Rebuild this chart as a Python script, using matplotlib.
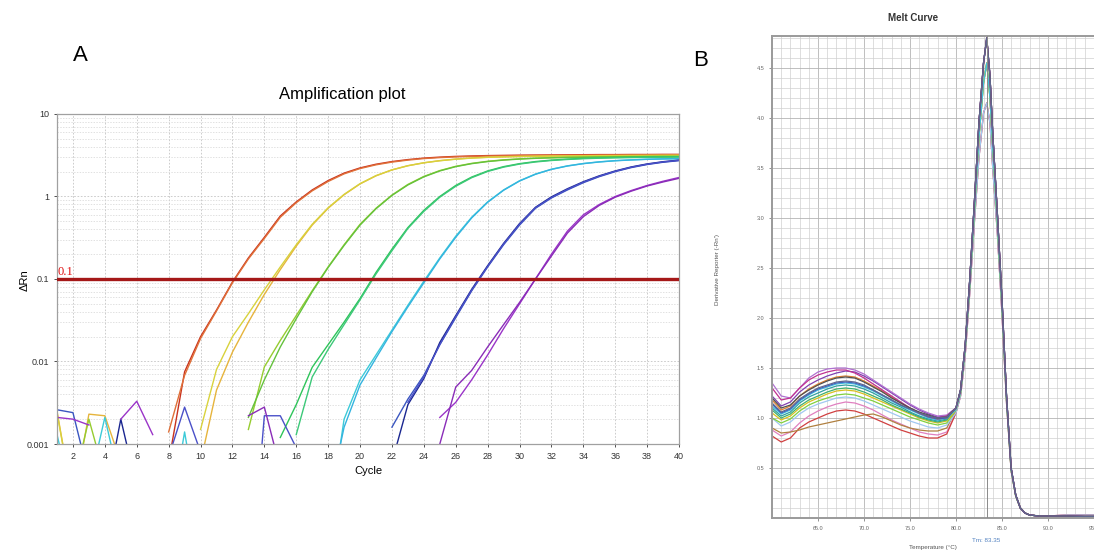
import numpy as np
import matplotlib
matplotlib.use('Agg')
import matplotlib.pyplot as plt
from matplotlib.ticker import FixedLocator, NullFormatter, MultipleLocator

plt.rcParams['font.family'] = ['Liberation Sans', 'DejaVu Sans']

N = None

# ---- panel A: amplification curves (delta Rn per cycle) ----
cycles = list(range(1, 41))
threshold = 0.1

amp_colors = ['#c8321e', '#e07038', '#e6b43c', '#d8d23c', '#96cc30', '#64c23c',
              '#2ec45a', '#3cc878', '#3ccad8', '#34b4e0', '#3a56c0', '#1a2690',
              '#4a50c8', '#9a34c8', '#8a2cb8']

amp_red = [N, N, N, N, N, N, N, 0.0006, 0.0075, 0.02, 0.042, 0.092, 0.18, 0.32, 0.58, 0.86, 1.2, 1.56,
           1.92, 2.22, 2.46, 2.65, 2.8, 2.92, 3.0, 3.06, 3.1, 3.13, 3.15, 3.17, 3.18, 3.19, 3.2, 3.21,
           3.22, 3.22, 3.23, 3.23, 3.24, 3.24]
amp_orange = [N, N, N, N, N, N, N, 0.0014, 0.0068, 0.019, 0.041, 0.09, 0.175, 0.31, 0.56, 0.84, 1.17,
              1.52, 1.88, 2.18, 2.42, 2.61, 2.76, 2.88, 2.96, 3.02, 3.06, 3.09, 3.11, 3.13, 3.14, 3.15,
              3.16, 3.17, 3.18, 3.18, 3.19, 3.19, 3.2, 3.2]
amp_gold = [0.0025, 0.0002, 0.0023, 0.0022, 0.0006, N, N, N, N, 0.0006, 0.0045, 0.013, 0.03, 0.065,
            0.13, 0.25, 0.45, 0.72, 1.05, 1.42, 1.78, 2.1, 2.36, 2.56, 2.72, 2.84, 2.93, 2.99, 3.03,
            3.06, 3.08, 3.1, 3.11, 3.12, 3.13, 3.14, 3.14, 3.15, 3.15, 3.16]
amp_lemon = [0.0024, 0.0002, N, N, N, N, N, N, N, 0.0015, 0.008, 0.02, 0.038, 0.074, 0.14, 0.26, 0.46,
             0.73, 1.06, 1.43, 1.79, 2.1, 2.36, 2.56, 2.71, 2.83, 2.92, 2.98, 3.02, 3.05, 3.07, 3.09,
             3.1, 3.11, 3.12, 3.12, 3.13, 3.13, 3.14, 3.14]
amp_ygreen = [N, 0.0003, 0.002, 0.0004, N, N, N, N, N, N, N, N, 0.0015, 0.0086, 0.018, 0.036, 0.072,
              0.14, 0.26, 0.46, 0.72, 1.04, 1.4, 1.75, 2.06, 2.32, 2.52, 2.67, 2.78, 2.86, 2.92, 2.96,
              2.99, 3.01, 3.03, 3.04, 3.05, 3.06, 3.07, 3.07]
amp_green2 = [N, N, N, N, N, N, N, N, N, N, N, N, 0.0021, 0.006, 0.015, 0.033, 0.07, 0.138, 0.255,
              0.45, 0.71, 1.03, 1.38, 1.73, 2.04, 2.3, 2.5, 2.65, 2.76, 2.84, 2.9, 2.94, 2.97, 2.99,
              3.01, 3.02, 3.03, 3.04, 3.05, 3.05]
amp_greenA = [N, N, N, N, N, N, N, N, N, N, N, N, N, N, 0.0012, 0.003, 0.0085, 0.016, 0.03, 0.058,
              0.12, 0.23, 0.42, 0.68, 1.0, 1.36, 1.72, 2.04, 2.3, 2.5, 2.65, 2.76, 2.84, 2.9, 2.94,
              2.97, 2.99, 3.01, 3.02, 3.03]
amp_greenB = [N, N, N, N, N, N, N, N, N, N, N, N, N, N, N, 0.0013, 0.0065, 0.014, 0.028, 0.056,
              0.115, 0.22, 0.41, 0.66, 0.98, 1.33, 1.69, 2.01, 2.27, 2.47, 2.62, 2.73, 2.81, 2.87,
              2.91, 2.94, 2.96, 2.98, 2.99, 3.0]
amp_cyanA = [0.0013, 0.0002, 0.0003, 0.0021, 0.0003, N, N, 0.0001, 0.0014, 0.0001, N, N, N, N, N, N,
             N, 0.0001, 0.002, 0.006, 0.012, 0.024, 0.048, 0.094, 0.18, 0.33, 0.56, 0.86, 1.2, 1.55,
             1.87, 2.14, 2.35, 2.51, 2.63, 2.72, 2.78, 2.83, 2.86, 2.88]
amp_cyanB = [N, N, N, N, N, N, N, N, N, N, N, N, N, N, N, N, N, 0.0002, 0.0016, 0.0052, 0.011, 0.023,
             0.046, 0.09, 0.175, 0.32, 0.55, 0.85, 1.19, 1.54, 1.86, 2.13, 2.34, 2.5, 2.62, 2.71,
             2.77, 2.82, 2.85, 2.87]
amp_blueA = [0.0026, 0.0024, 0.0004, N, N, N, N, N, N, N, N, N, N, N, N, N, N, N, N, N, N, 0.0016,
             0.0035, 0.0068, 0.016, 0.034, 0.072, 0.14, 0.26, 0.45, 0.72, 0.96, 1.2, 1.47, 1.74, 2.0,
             2.24, 2.44, 2.6, 2.72]
amp_blueB = [N, N, N, 0.0002, 0.002, 0.0003, N, N, N, N, N, N, N, N, N, N, N, N, N, N, N, 0.0006,
             0.003, 0.0062, 0.017, 0.036, 0.075, 0.145, 0.27, 0.47, 0.74, 0.99, 1.24, 1.51, 1.78,
             2.04, 2.28, 2.48, 2.64, 2.76]
amp_blueC = [N, N, N, N, N, N, N, 0.0007, 0.0028, 0.0008, N, N, 0.00001, 0.0022, 0.0022, 0.0009, N,
             N, N, N, N, N, 0.0032, 0.0065, 0.016, 0.035, 0.073, 0.142, 0.265, 0.46, 0.73, 0.97,
             1.22, 1.49, 1.76, 2.02, 2.26, 2.46, 2.62, 2.74]
amp_purpleA = [0.0021, 0.002, 0.0017, N, 0.002, 0.0033, 0.0013, N, N, N, N, N, N, N, N, N, N, N, N,
               N, N, N, N, N, 0.0021, 0.0032, 0.006, 0.012, 0.025, 0.05, 0.1, 0.2, 0.38, 0.6, 0.8,
               1.0, 1.18, 1.36, 1.53, 1.7]
amp_purpleB = [N, N, N, N, N, N, N, N, N, N, N, N, 0.0022, 0.0028, 0.0005, N, N, N, N, N, N, N, N, N,
               0.001, 0.0049, 0.0078, 0.015, 0.028, 0.052, 0.1, 0.19, 0.36, 0.57, 0.78, 0.98, 1.16,
               1.34, 1.5, 1.66]

amp_series = [amp_red, amp_orange, amp_gold, amp_lemon, amp_ygreen, amp_green2, amp_greenA,
              amp_greenB, amp_cyanA, amp_cyanB, amp_blueA, amp_blueB, amp_blueC, amp_purpleA,
              amp_purpleB]

# ---- panel B: melt curves (derivative reporter vs temperature) ----
melt_low_t = list(range(60, 80))
melt_tail_t = [80, 80.5, 81, 81.5, 82, 82.5, 83, 83.35, 83.7, 84, 84.5, 85, 85.5, 86, 86.5, 87, 87.5,
               88, 89, 90, 92, 94, 96]
tail_hi = [1.1, 1.28, 1.72, 2.38, 3.15, 3.95, 4.55, 4.8, 4.42, 3.85, 3.05, 2.2, 1.22, 0.5, 0.23, 0.1,
           0.05, 0.03, 0.02, 0.02, 0.02, 0.015, 0.015]
tail_mid = [1.08, 1.25, 1.68, 2.32, 3.05, 3.8, 4.35, 4.55, 4.2, 3.7, 2.95, 2.12, 1.18, 0.48, 0.22,
            0.1, 0.05, 0.03, 0.02, 0.02, 0.02, 0.015, 0.015]
tail_lo = [1.05, 1.22, 1.62, 2.25, 2.95, 3.6, 4.05, 4.15, 3.95, 3.5, 2.85, 2.05, 1.15, 0.47, 0.22,
           0.1, 0.05, 0.03, 0.02, 0.02, 0.03, 0.03, 0.03]
tm_value = 83.35

melt_colors = ['#e080c0', '#d04040', '#b08040', '#a0c8f0', '#80d040', '#d8c020', '#40b070',
               '#30a0a0', '#40c0e0', '#e08030', '#4060c0', '#8040b0', '#b070d0', '#c03090',
               '#505050', '#606890']
melt_tails = ['lo', 'lo', 'mid', 'lo', 'mid', 'mid', 'hi', 'hi', 'mid', 'hi', 'hi', 'hi', 'hi', 'hi',
              'hi', 'hi']
melt_low = [
    [0.88, 0.82, 0.86, 0.95, 1.02, 1.07, 1.11, 1.14, 1.16, 1.15, 1.12, 1.08, 1.03, 0.98, 0.94, 0.9, 0.86, 0.84, 0.83, 0.86],
    [0.82, 0.76, 0.8, 0.9, 0.96, 1.0, 1.04, 1.07, 1.08, 1.07, 1.04, 1.0, 0.96, 0.92, 0.88, 0.85, 0.82, 0.8, 0.8, 0.84],
    [0.9, 0.85, 0.86, 0.88, 0.91, 0.93, 0.95, 0.97, 0.99, 1.01, 1.03, 1.04, 1.01, 0.97, 0.93, 0.9, 0.88, 0.87, 0.87, 0.9],
    [1.0, 0.92, 0.96, 1.04, 1.1, 1.14, 1.17, 1.2, 1.21, 1.2, 1.17, 1.13, 1.09, 1.05, 1.01, 0.97, 0.94, 0.91, 0.9, 0.93],
    [1.0, 0.95, 0.99, 1.07, 1.13, 1.17, 1.2, 1.23, 1.24, 1.23, 1.2, 1.17, 1.13, 1.09, 1.05, 1.01, 0.98, 0.95, 0.93, 0.95],
    [1.05, 0.98, 1.02, 1.1, 1.16, 1.2, 1.24, 1.27, 1.28, 1.27, 1.24, 1.2, 1.16, 1.12, 1.08, 1.04, 1.0, 0.97, 0.95, 0.97],
    [1.08, 1.0, 1.04, 1.12, 1.18, 1.22, 1.26, 1.29, 1.3, 1.29, 1.26, 1.22, 1.18, 1.13, 1.09, 1.05, 1.01, 0.98, 0.96, 0.98],
    [1.1, 1.02, 1.06, 1.15, 1.21, 1.25, 1.29, 1.32, 1.33, 1.32, 1.29, 1.25, 1.2, 1.15, 1.11, 1.06, 1.02, 0.99, 0.97, 0.99],
    [1.12, 1.04, 1.08, 1.17, 1.23, 1.28, 1.31, 1.34, 1.35, 1.34, 1.31, 1.27, 1.22, 1.17, 1.12, 1.08, 1.04, 1.0, 0.98, 1.0],
    [1.18, 1.08, 1.12, 1.22, 1.29, 1.34, 1.38, 1.41, 1.42, 1.41, 1.37, 1.32, 1.27, 1.21, 1.15, 1.1, 1.05, 1.01, 0.99, 1.0],
    [1.14, 1.05, 1.09, 1.18, 1.24, 1.29, 1.32, 1.35, 1.36, 1.35, 1.32, 1.28, 1.23, 1.18, 1.13, 1.09, 1.05, 1.01, 0.99, 1.0],
    [1.22, 1.12, 1.16, 1.26, 1.33, 1.38, 1.42, 1.45, 1.47, 1.46, 1.42, 1.37, 1.31, 1.25, 1.19, 1.13, 1.08, 1.04, 1.01, 1.02],
    [1.35, 1.22, 1.2, 1.3, 1.4, 1.46, 1.49, 1.5, 1.5, 1.48, 1.44, 1.38, 1.32, 1.26, 1.2, 1.14, 1.09, 1.05, 1.02, 1.03],
    [1.3, 1.18, 1.2, 1.3, 1.38, 1.43, 1.46, 1.48, 1.48, 1.45, 1.4, 1.34, 1.28, 1.22, 1.16, 1.1, 1.05, 1.02, 1.0, 1.02],
    [1.2, 1.1, 1.13, 1.22, 1.28, 1.33, 1.37, 1.4, 1.41, 1.4, 1.36, 1.31, 1.26, 1.2, 1.15, 1.1, 1.06, 1.03, 1.0, 1.01],
    [1.15, 1.06, 1.1, 1.19, 1.25, 1.3, 1.33, 1.36, 1.37, 1.36, 1.33, 1.28, 1.23, 1.18, 1.13, 1.09, 1.05, 1.02, 1.0, 1.01],
]

fig = plt.figure(figsize=(10.94, 5.53), dpi=100)
fig.patch.set_facecolor('white')

# ---------------- panel A ----------------
ax1 = fig.add_axes([0.0521, 0.1971, 0.5686, 0.5968])
ax1.set_yscale('log', nonpositive='clip')
for vals, col in zip(amp_series, amp_colors):
    y = np.array(vals, dtype=float)
    ax1.plot(cycles, y, color=col, lw=1.0)
ax1.axhline(threshold, color='#a51818', lw=2.4, zorder=5)
ax1.text(1.05, threshold * 1.02, '0.1', color='#e01010', fontsize=9,
         family=['Liberation Serif', 'DejaVu Serif'], va='bottom', ha='left', zorder=6)

ax1.set_xlim(1, 40)
ax1.set_ylim(0.001, 10)
ax1.set_xticks(range(2, 41, 2))
ax1.yaxis.set_major_locator(FixedLocator([0.001, 0.01, 0.1, 1, 10]))
ax1.set_yticklabels(['0.001', '0.01', '0.1', '1', '10'])
minor_y = [m * 10.0 ** e for e in range(-3, 1) for m in range(2, 10)]
ax1.yaxis.set_minor_locator(FixedLocator(minor_y))
ax1.yaxis.set_minor_formatter(NullFormatter())
ax1.tick_params(axis='both', labelsize=6.5, colors='#333333', length=2, width=0.6)
ax1.tick_params(axis='y', which='minor', length=0)
ax1.grid(True, which='major', color='#c4c4c4', ls=(0, (2, 2)), lw=0.6)
ax1.grid(True, which='minor', axis='y', color='#d4d4d4', ls=(0, (2, 2)), lw=0.5)
for s in ax1.spines.values():
    s.set_color('#a0a0a0')
    s.set_linewidth(0.9)

fig.text(0.3126, 0.830, 'Amplification plot', fontsize=12, ha='center', va='center')
fig.text(0.0229, 0.4937, '\u0394Rn', fontsize=8, rotation=90, ha='center', va='center')
fig.text(0.3364, 0.1483, 'Cycle', fontsize=8, ha='center', va='center')
fig.text(0.0731, 0.9005, 'A', fontsize=16, ha='center', va='center')

# ---------------- panel B ----------------
ax2 = fig.add_axes([0.7057, 0.0633, 0.3026, 0.8716])
tails = {'hi': tail_hi, 'mid': tail_mid, 'lo': tail_lo}
for low, kind, col in zip(melt_low, melt_tails, melt_colors):
    ax2.plot(melt_low_t + melt_tail_t, low + tails[kind], color=col, lw=0.9)
ax2.axvline(tm_value, color='#8a8a8a', lw=0.7, zorder=4)

ax2.set_xlim(60, 96)
ax2.set_ylim(0, 4.82)
ax2.set_xticks(range(65, 96, 5))
ax2.set_xticklabels([f'{v:.1f}' for v in range(65, 96, 5)])
ax2.set_yticks([0.5, 1.0, 1.5, 2.0, 2.5, 3.0, 3.5, 4.0, 4.5])
ax2.set_yticklabels(['0.5', '1.0', '1.5', '2.0', '2.5', '3.0', '3.5', '4.0', '4.5'])
ax2.xaxis.set_minor_locator(MultipleLocator(1))
ax2.yaxis.set_minor_locator(MultipleLocator(0.1))
ax2.tick_params(axis='both', labelsize=4, colors='#666666', length=2, width=0.5)
ax2.tick_params(which='minor', length=0)
ax2.grid(True, which='major', color='#b4b4b4', lw=0.6)
ax2.grid(True, which='minor', color='#d0d0d0', lw=0.5)
ax2.set_axisbelow(True)
for s in ax2.spines.values():
    s.set_color('#9a9a9a')
    s.set_linewidth(1.4)

fig.text(0.8346, 0.9675, 'Melt Curve', fontsize=7, fontweight='bold', ha='center', va='center',
         color='#333333')
fig.text(0.6563, 0.5118, "Derivative Reporter (-Rn')", fontsize=4.5, rotation=90, ha='center',
         va='center', color='#555555')
fig.text(0.8528, 0.010, 'Temperature (\u00b0C)', fontsize=4.5, ha='center', va='center',
         color='#555555')
fig.text(0.9013, 0.0235, f'Tm: {tm_value:.2f}', fontsize=4.5, ha='center', va='center',
         color='#5080c0')
fig.text(0.6408, 0.8915, 'B', fontsize=16, ha='center', va='center')

fig.savefig('out.png', dpi=100)
